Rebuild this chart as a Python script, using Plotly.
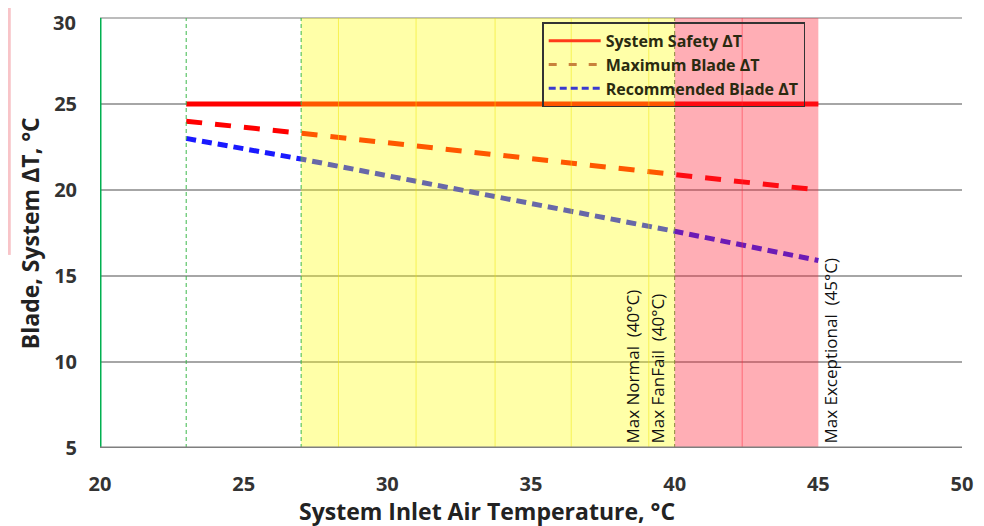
import plotly.graph_objects as go

# Data
safety_x = [23, 45]
safety_y = [25, 25]
max_blade_x = [23, 27, 40, 45]
max_blade_y = [24, 23.3, 20.9, 20]
rec_blade_x = [23, 27, 40, 45]
rec_blade_y = [23, 21.8, 17.6, 15.9]
x_ticks = [20, 25, 30, 35, 40, 45, 50]
y_ticks = [5, 10, 15, 20, 25, 30]
limit_lines = [23, 27, 40]
yellow_zone = [27, 40]
red_zone = [40, 45]
yellow_grid = [28.3, 31.0, 33.75, 36.4, 39.1]
red_grid = [42.35]
limit_labels = [("Max Normal  (40°C)", 38.52), ("Max FanFail  (40°C)", 39.39), ("Max Exceptional  (45°C)", 45.41)]
x_title = "System Inlet Air Temperature, °C"
y_title = "Blade, System ΔT, °C"

FONT = "Open Sans"
TICKFONT = dict(family=FONT, size=20, color="#333", weight="bold")

fig = go.Figure()
fig.add_trace(go.Scatter(x=safety_x, y=safety_y, mode="lines", showlegend=False,
                         line=dict(color="#ff0000", width=5)))
fig.add_trace(go.Scatter(x=max_blade_x, y=max_blade_y, mode="lines", showlegend=False,
                         line=dict(color="#ff0000", width=5, dash="16px,13px")))
fig.add_trace(go.Scatter(x=rec_blade_x, y=rec_blade_y, mode="lines", showlegend=False,
                         line=dict(color="#1a1aff", width=5, dash="10px,6px")))
# legend entries
fig.add_trace(go.Scatter(x=[None], y=[None], mode="lines", name="System Safety ΔT",
                         line=dict(color="#ff3a1a", width=3)))
fig.add_trace(go.Scatter(x=[None], y=[None], mode="lines", name="Maximum Blade ΔT",
                         line=dict(color="#c8823c", width=3, dash="8px,12px")))
fig.add_trace(go.Scatter(x=[None], y=[None], mode="lines", name="Recommended Blade ΔT",
                         line=dict(color="#3a3ad0", width=3, dash="7px,4px")))

shapes = []
# top border line (gridline at the range end)
shapes.append(dict(type="line", xref="paper", yref="paper", x0=0, x1=1, y0=1, y1=1,
                   line=dict(color="#a6a6a6", width=1.5), layer="below"))
# zones (overlay above lines)
shapes.append(dict(type="rect", xref="x", yref="y", x0=yellow_zone[0], x1=yellow_zone[1],
                   y0=5, y1=30.35, fillcolor="rgba(255,255,0,0.34)", line_width=0, layer="above"))
shapes.append(dict(type="rect", xref="x", yref="y", x0=red_zone[0], x1=red_zone[1],
                   y0=5, y1=30.35, fillcolor="rgba(255,30,50,0.36)", line_width=0, layer="above"))
for gx in yellow_grid:
    shapes.append(dict(type="line", xref="x", yref="y", x0=gx, x1=gx, y0=5, y1=30.35,
                       line=dict(color="rgba(240,230,0,0.5)", width=1), layer="above"))
for gx in red_grid:
    shapes.append(dict(type="line", xref="x", yref="y", x0=gx, x1=gx, y0=5, y1=30.35,
                       line=dict(color="rgba(255,40,60,0.5)", width=1), layer="above"))
for lx in limit_lines:
    col = "#3cb84a" if lx < 40 else "#8a8a3a"
    shapes.append(dict(type="line", xref="x", yref="y", x0=lx, x1=lx, y0=5, y1=30.35,
                       line=dict(color=col, width=1, dash="4px,3px"), layer="above"))
# green left axis line
shapes.append(dict(type="line", xref="x", yref="y", x0=20, x1=20, y0=5, y1=30,
                   line=dict(color="#00b050", width=3), layer="above"))
# bottom axis line
shapes.append(dict(type="line", xref="x", yref="y", x0=20, x1=50, y0=5, y1=5,
                   line=dict(color="#7f7f7f", width=3), layer="above"))
# cropped fragment at the far left edge
shapes.append(dict(type="rect", xref="paper", yref="paper", x0=-0.1067, x1=-0.1035,
                   y0=0.449, y1=1.03, fillcolor="#f8c4c8", line_width=0))

annotations = []
for text, ax in limit_labels:
    annotations.append(dict(x=ax, y=5.15, xref="x", yref="y", text=text, textangle=-90,
                            showarrow=False, xanchor="center", yanchor="bottom",
                            font=dict(family=FONT, size=17, color="#111")))
annotations.append(dict(x=0.449, y=-0.146, xref="paper", yref="paper", text=x_title,
                        showarrow=False, xanchor="center", yanchor="middle",
                        font=dict(family=FONT, size=23, color="#222", weight="bold")))
annotations.append(dict(x=-0.081, y=0.5, xref="paper", yref="paper", text=y_title,
                        textangle=-90, showarrow=False, xanchor="center", yanchor="middle",
                        font=dict(family=FONT, size=23, color="#222", weight="bold")))
# label of the top tick (drawn as annotation so it is not hidden at the page edge)
annotations.append(dict(x=0, y=y_ticks[-1], xref="paper", yref="y", text=str(y_ticks[-1]),
                        showarrow=False, xanchor="right", yanchor="middle", xshift=-22,
                        yshift=-4, font=TICKFONT))

fig.update_layout(
    width=984, height=526,
    margin=dict(l=92, r=30, t=10, b=86),
    paper_bgcolor="white", plot_bgcolor="white",
    shapes=shapes, annotations=annotations,
    font=dict(family=FONT, color="#222"),
    legend=dict(x=0.513, y=0.99, xanchor="left", yanchor="top",
                bgcolor="rgba(0,0,0,0)", bordercolor="#333", borderwidth=1.5,
                font=dict(family=FONT, size=16, color="#2a2a10", weight="bold"),
                tracegroupgap=0, itemwidth=52),
    xaxis=dict(range=[20, 50], tickvals=x_ticks, showgrid=False, zeroline=False,
               showline=False, ticks="", automargin=False, ticklabelstandoff=22,
               tickfont=TICKFONT),
    yaxis=dict(range=[5, 30], tickvals=y_ticks[:-1], showgrid=True, gridcolor="#a6a6a6",
               gridwidth=1.5, zeroline=False, showline=False, ticks="", ticklabelstandoff=22,
               automargin=False, tickfont=TICKFONT),
)

fig.write_html("out.html")
